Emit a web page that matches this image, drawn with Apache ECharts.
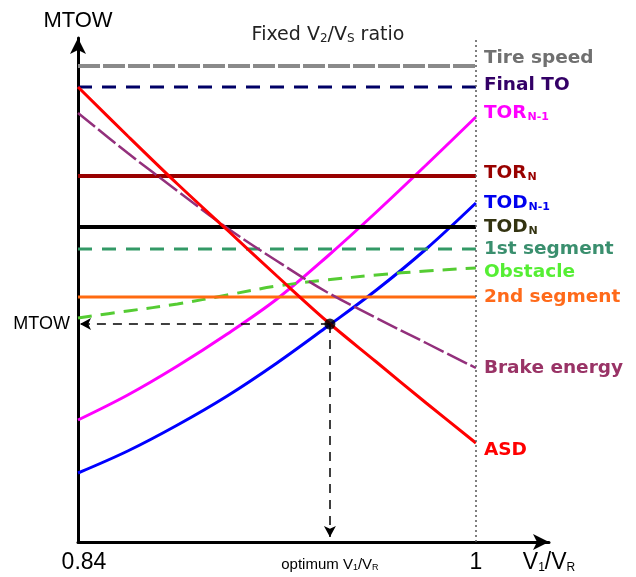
<!DOCTYPE html>
<html>
<head>
<meta charset="utf-8">
<script src="https://cdn.jsdelivr.net/npm/echarts@6/dist/echarts.min.js"></script>
<style>html,body{margin:0;padding:0;background:#fff}#c{width:636px;height:577px}</style>
</head>
<body>
<div id="c"></div>
<script>
// ---- data (arbitrary MTOW units vs V1/VR) ----
const xValues = [0.84, 0.86, 0.88, 0.90, 0.92, 0.94, 0.96, 0.98, 1.00];
const torN1 = [122, 147, 176, 208, 243, 285, 330, 377, 425];
const todN1 = [69, 91, 117, 146, 179, 215, 252, 293, 339];
const asd = [455, 406, 358, 312, 266, 221, 180, 139, 99];
const brakeEnergy = [429, 389, 351, 314, 281, 250, 224, 199, 174];
const obstacle = [224, 231, 238, 247, 256, 262, 267, 271, 274];
const tireSpeed = 476;
const finalTO = 455;
const torN = 366;
const todN = 315;
const firstSegment = 293;
const secondSegment = 245;
const optimumV1 = 0.9413;
const optimumMTOW = 218;
const xMin = 0.84, xMax = 1.0294, xEnd = 1.0;
const yMin = 0, yMax = 504;
const xTickLabels = [0.84, 1];

const chart = echarts.init(document.getElementById('c'), null, {renderer: 'canvas'});

function curve(vals) { return xValues.map((x, i) => [x, vals[i]]); }
function flat(v) { return [[xMin, v], [xEnd, v]]; }

const LF = 'DejaVu Sans';
const LS = 18.5;
function endLbl(text, color, dy) {
  return {
    show: true, formatter: text, distance: 8, offset: [0, dy],
    color: color, fontFamily: LF, fontWeight: 'bold', fontSize: LS,
    rich: {
      m: {color: color, fontFamily: LF, fontWeight: 'bold', fontSize: LS},
      s: {color: color, fontFamily: LF, fontWeight: 'bold', fontSize: 11, verticalAlign: 'bottom', padding: [0, 0, 0, 1]}
    }
  };
}

function lineSeries(name, data, color, width, type, label, smooth) {
  return {
    name: name, type: 'line', data: data, showSymbol: false, symbol: 'none',
    smooth: smooth ? 0.35 : false, silent: true,
    lineStyle: {color: color, width: width, type: type, cap: 'butt'},
    endLabel: label, z: 3
  };
}

const series = [
  lineSeries('Tire speed', flat(tireSpeed), '#8a8a8a', 4, [22, 3], endLbl('{m|Tire speed}', '#707070', -8)),
  lineSeries('Final TO', flat(finalTO), '#000066', 3, [14, 10], endLbl('{m|Final TO}', '#330066', -2)),
  lineSeries('TOR N-1', curve(torN1), '#ff00ff', 3, 'solid', endLbl('{m|TOR}{s|N-1}', '#ff00ff', -4), true),
  lineSeries('TOR N', flat(torN), '#990000', 4, 'solid', endLbl('{m|TOR}{s|N}', '#990000', -3)),
  lineSeries('TOD N-1', curve(todN1), '#0000ff', 3, 'solid', endLbl('{m|TOD}{s|N-1}', '#0000ee', 0), true),
  lineSeries('TOD N', flat(todN), '#000000', 4, 'solid', endLbl('{m|TOD}{s|N}', '#333311', 0)),
  lineSeries('1st segment', flat(firstSegment), '#339966', 3, [14, 10], endLbl('{m|1st segment}', '#3a8f6e', 0)),
  lineSeries('Obstacle', curve(obstacle), '#55cc33', 3, [14, 9], endLbl('{m|Obstacle}', '#55ee33', 4), true),
  lineSeries('2nd segment', flat(secondSegment), '#ff6a10', 3, 'solid', endLbl('{m|2nd segment}', '#ff6a1a', 0)),
  lineSeries('Brake energy', curve(brakeEnergy), '#93307c', 2.5, [22, 4], endLbl('{m|Brake energy}', '#993366', 0), true),
  lineSeries('ASD', curve(asd), '#ff0000', 3, 'solid', endLbl('{m|ASD}', '#ff0000', 7), true),
  {
    name: 'optimum', type: 'scatter', data: [[optimumV1, optimumMTOW]],
    symbolSize: 11, itemStyle: {color: '#000'}, z: 10, silent: true,
    markLine: {
      silent: true, symbol: ['none', 'arrow'], symbolSize: [9, 11], animation: false,
      label: {show: false},
      lineStyle: {color: '#000', width: 1.5, type: [9, 7]},
      data: [
        [{coord: [optimumV1, optimumMTOW]}, {coord: [xMin + 0.0008, optimumMTOW]}],
        [{coord: [optimumV1, optimumMTOW]}, {coord: [optimumV1, yMin + 5]}]
      ]
    }
  },
  {
    name: 'limit', type: 'line', data: [], silent: true,
    markLine: {
      silent: true, symbol: ['none', 'none'], animation: false, label: {show: false},
      lineStyle: {color: '#555', width: 1.5, type: [2, 3]},
      data: [{xAxis: xEnd}]
    }
  }
];

const option = {
  animation: false,
  backgroundColor: '#fff',
  title: {
    text: 'Fixed V{sub|2}/V{sub|S} ratio',
    left: 323, top: 20, textAlign: 'center',
    textStyle: {
      fontFamily: LF, fontWeight: 'normal', fontSize: 19, color: '#222',
      rich: {sub: {fontFamily: LF, fontSize: 12, color: '#222', verticalAlign: 'bottom', padding: [8, 0, 0, 0]}}
    }
  },
  grid: {left: 78, right: 87, top: 38, bottom: 35, containLabel: false, outerBoundsMode: 'none'},
  xAxis: {
    type: 'value', min: xMin, max: xMax,
    splitLine: {show: false}, axisTick: {show: false},
    axisLine: {show: true, lineStyle: {color: '#000', width: 3}, symbol: ['none', 'arrow'], symbolSize: [12, 16]},
    axisLabel: {
      customValues: xTickLabels.concat([optimumV1, xMax]),
      margin: 9, color: '#000',
      formatter: function (v) {
        if (Math.abs(v - optimumV1) < 1e-6) return '{o|optimum V}{os|1}{o|/V}{os|R}';
        if (Math.abs(v - xMax) < 1e-6) return '{b|V}{bs|1}{b|/V}{bs|R}';
        if (Math.abs(v - xMin) < 1e-6) return '{f|' + String(v) + '}';
        return '{b|' + String(v) + '}';
      },
      rich: {
        b: {fontFamily: 'Liberation Sans', fontSize: 23, color: '#000'},
        f: {fontFamily: 'Liberation Sans', fontSize: 23, color: '#000', padding: [0, 0, 0, 12]},
        bs: {fontFamily: 'Liberation Sans', fontSize: 12, color: '#000', verticalAlign: 'bottom'},
        o: {fontFamily: 'Liberation Sans', fontSize: 15, color: '#000', padding: [6, 0, 0, 0]},
        os: {fontFamily: 'Liberation Sans', fontSize: 9, color: '#000', verticalAlign: 'bottom', padding: [6, 0, 0, 0]}
      }
    }
  },
  yAxis: {
    type: 'value', min: yMin, max: yMax,
    name: 'MTOW', nameLocation: 'end', nameGap: 17,
    nameTextStyle: {fontFamily: 'Liberation Sans', fontSize: 22, color: '#000', align: 'center', verticalAlign: 'middle'},
    splitLine: {show: false}, axisTick: {show: false},
    axisLine: {show: true, lineStyle: {color: '#000', width: 3}, symbol: ['none', 'arrow'], symbolSize: [12, 16]},
    axisLabel: {
      customValues: [optimumMTOW], margin: 8,
      formatter: function () { return 'MTOW'; },
      fontFamily: 'Liberation Sans', fontSize: 18, color: '#000'
    }
  },
  series: series
};
chart.setOption(option);
</script>
</body>
</html>
